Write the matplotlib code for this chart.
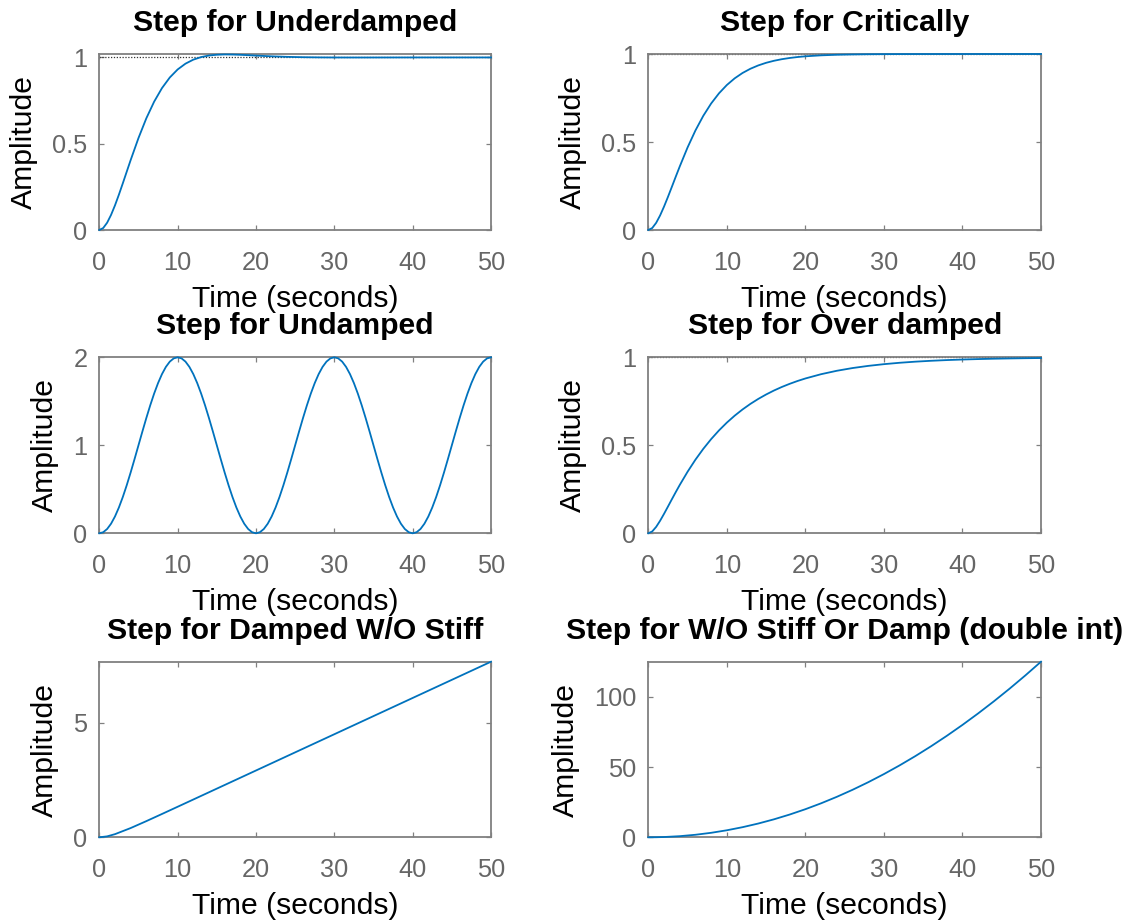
import numpy as np
import matplotlib
matplotlib.use("Agg")
import matplotlib.pyplot as plt
from matplotlib.ticker import FuncFormatter

plt.rcParams['font.family'] = ['Liberation Sans', 'DejaVu Sans']

# Sample times (s) for the settling responses
t_settle = [0, 0.5, 1, 1.5, 2, 2.5, 3, 3.5, 4, 5, 6, 7, 8, 9, 10, 11, 12, 13, 14, 15, 16,
            17, 18, 19, 20, 22, 24, 26, 28, 30, 32, 34, 36, 38, 40, 42, 44, 46, 48, 50]

underdamped = [0.0, 0.0115, 0.0423, 0.0874, 0.1426, 0.2046, 0.2704, 0.3378, 0.4049,
               0.5328, 0.6471, 0.7437, 0.8224, 0.8840, 0.9304, 0.9640, 0.9872, 1.0022,
               1.0113, 1.0156, 1.0173, 1.0168, 1.0153, 1.0132, 1.0108, 1.0065, 1.0034,
               1.0014, 1.0003, 0.9998, 0.9997, 0.9997, 0.9998, 0.9999, 1.0, 1.0, 1.0,
               1.0, 1.0, 1.0]

critically = [0.0, 0.0112, 0.0406, 0.0825, 0.1327, 0.1878, 0.2453, 0.3035, 0.3606,
              0.4690, 0.5654, 0.6487, 0.7187, 0.7766, 0.8238, 0.8618, 0.8922, 0.9162,
              0.9351, 0.9500, 0.9615, 0.9705, 0.9774, 0.9828, 0.9869, 0.9924, 0.9957,
              0.9975, 0.9986, 0.9992, 0.9995, 0.9997, 0.9998, 0.9999, 0.9999, 1.0, 1.0,
              1.0, 1.0, 1.0]

overdamped = [0.0, 0.0106, 0.0365, 0.0711, 0.1103, 0.1516, 0.1933, 0.2344, 0.2744,
              0.3497, 0.4182, 0.4798, 0.5351, 0.5846, 0.6289, 0.6684, 0.7037, 0.7353,
              0.7635, 0.7887, 0.8113, 0.8314, 0.8493, 0.8654, 0.8797, 0.9040, 0.9234,
              0.9389, 0.9512, 0.9610, 0.9689, 0.9752, 0.9802, 0.9842, 0.9874, 0.9899,
              0.9920, 0.9936, 0.9949, 0.9959]

# Undamped oscillation, sampled every 0.5 s
t_undamped = np.linspace(0, 50, 101)
undamped = [0.0, 0.0123, 0.0489, 0.1090, 0.1910, 0.2929, 0.4122, 0.5460, 0.6910, 0.8436,
            1.0, 1.1564, 1.3090, 1.4540, 1.5878, 1.7071, 1.8090, 1.8910, 1.9511, 1.9877,
            2.0, 1.9877, 1.9511, 1.8910, 1.8090, 1.7071, 1.5878, 1.4540, 1.3090, 1.1564,
            1.0, 0.8436, 0.6910, 0.5460, 0.4122, 0.2929, 0.1910, 0.1090, 0.0489, 0.0123,
            0.0, 0.0123, 0.0489, 0.1090, 0.1910, 0.2929, 0.4122, 0.5460, 0.6910, 0.8436,
            1.0, 1.1564, 1.3090, 1.4540, 1.5878, 1.7071, 1.8090, 1.8910, 1.9511, 1.9877,
            2.0, 1.9877, 1.9511, 1.8910, 1.8090, 1.7071, 1.5878, 1.4540, 1.3090, 1.1564,
            1.0, 0.8436, 0.6910, 0.5460, 0.4122, 0.2929, 0.1910, 0.1090, 0.0489, 0.0123,
            0.0, 0.0123, 0.0489, 0.1090, 0.1910, 0.2929, 0.4122, 0.5460, 0.6910, 0.8436,
            1.0, 1.1564, 1.3090, 1.4540, 1.5878, 1.7071, 1.8090, 1.8910, 1.9511, 1.9877,
            2.0]

# Responses without stiffness
t_ramp = [0, 1, 2, 4, 6, 8, 10, 12, 14, 16, 18, 20, 22, 24, 26, 28, 30, 32, 34, 36,
          38, 40, 42, 44, 46, 48, 50]
damped_no_stiff = [0.0, 0.0410, 0.1368, 0.4024, 0.7043, 1.0165, 1.3315, 1.6473, 1.9636,
                   2.2798, 2.5960, 2.9122, 3.2284, 3.5447, 3.8609, 4.1771, 4.4933, 4.8095,
                   5.1258, 5.4420, 5.7582, 6.0744, 6.3906, 6.7069, 7.0231, 7.3393, 7.6555]
double_int = [0.0, 0.05, 0.2, 0.8, 1.8, 3.2, 5.0, 7.2, 9.8, 12.8, 16.2, 20.0, 24.2, 28.8,
              33.8, 39.2, 45.0, 51.2, 57.8, 64.8, 72.2, 80.0, 88.2, 96.8, 105.8, 115.2,
              125.0]

steady_state = 1.0
x_ticks = [0, 10, 20, 30, 40, 50]

panels = [
    ("Step for Underdamped", t_settle, underdamped, (0, 1.02), [0, 0.5, 1], True),
    ("Step for Critically", t_settle, critically, (0, 1.0), [0, 0.5, 1], True),
    ("Step for Undamped", t_undamped, undamped, (0, 2.0), [0, 1, 2], False),
    ("Step for Over damped", t_settle, overdamped, (0, 1.0), [0, 0.5, 1], True),
    ("Step for Damped W/O Stiff", t_ramp, damped_no_stiff, (0, damped_no_stiff[-1]), [0, 5], False),
    ("Step for W/O Stiff Or Damp (double int)", t_ramp, double_int, (0, double_int[-1]), [0, 50, 100], False),
]

W, H = 1131, 922
fig = plt.figure(figsize=(W / 100, H / 100), dpi=100)

col_x = [(99.3, 491.0), (648.3, 1041.0)]
row_y = [(54.0, 230.0), (357.3, 533.3), (661.7, 837.3)]

line_color = '#0072BD'
spine_color = '#808080'
tick_label_color = '#666666'

for i, (title, t, y, ylim, yticks, show_ss) in enumerate(panels):
    r, c = divmod(i, 2)
    x0, x1 = col_x[c]
    y0, y1 = row_y[r]
    ax = fig.add_axes([x0 / W, 1 - y1 / H, (x1 - x0) / W, (y1 - y0) / H])

    if show_ss:
        ax.plot([0, 50], [steady_state, steady_state], color='#333333',
                linestyle=(0, (1, 1.3)), linewidth=0.9, clip_on=False, zorder=2)
    ax.plot(t, y, color=line_color, linewidth=1.3, clip_on=False, zorder=3)

    ax.set_xlim(0, 50)
    ax.set_ylim(*ylim)
    ax.set_xticks(x_ticks)
    ax.set_yticks(yticks)
    ax.yaxis.set_major_formatter(FuncFormatter(lambda v, _: f"{v:g}"))

    for s in ax.spines.values():
        s.set_color(spine_color)
        s.set_linewidth(1.3)
    ax.tick_params(direction='in', top=True, right=True, length=3.5, width=0.9,
                   color=spine_color, labelcolor=tick_label_color, labelsize=18.3)
    ax.tick_params(axis='x', pad=15)
    ax.tick_params(axis='y', pad=8.5)

    ax.set_title(title, fontsize=21.7, fontweight='bold', pad=16.5)
    ax.set_xlabel("Time (seconds)", fontsize=21.7, labelpad=7)
    ax.set_ylabel("Amplitude", fontsize=21.7, labelpad=10.5)

fig.savefig("out.png", dpi=100, facecolor='white')
